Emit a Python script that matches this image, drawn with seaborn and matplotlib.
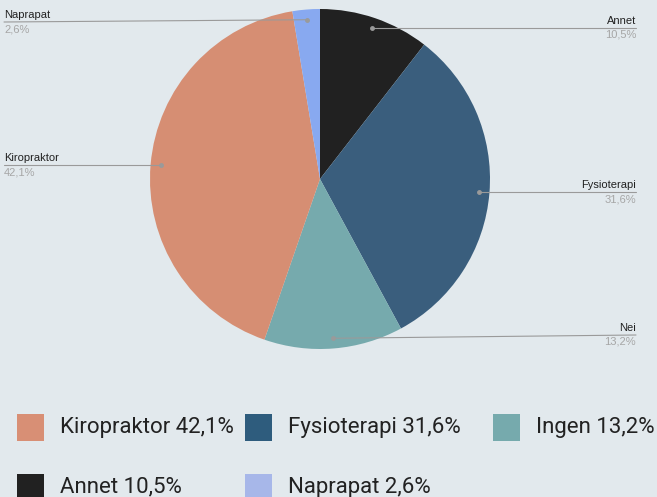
import numpy as np
import matplotlib
matplotlib.use('Agg')
import matplotlib.pyplot as plt
import seaborn as sns

# data (clockwise from 12 o'clock)
slice_labels = ['Annet', 'Fysioterapi', 'Nei', 'Kiropraktor', 'Naprapat']
slice_values = [10.5, 31.6, 13.2, 42.1, 2.6]
pie_colors = ['#212121', '#3a5e7d', '#76aaad', '#d68e73', '#88a9f0']

# legend in its own order, with its own names
legend_labels = ['Kiropraktor', 'Fysioterapi', 'Ingen', 'Annet', 'Naprapat']
legend_values = [42.1, 31.6, 13.2, 10.5, 2.6]
legend_colors = ['#d88f75', '#2e5c7d', '#76aaad', '#212121', '#a7b7e9']

bg = '#e2e9ed'
sns.set_style('white', {'axes.facecolor': bg, 'figure.facecolor': bg})
plt.rcParams['font.family'] = ['Liberation Sans', 'DejaVu Sans']

W, H = 657, 497
fig = plt.figure(figsize=(W / 100, H / 100), dpi=100)
cx, cy, R = 320, 179, 170
ax = fig.add_axes([(cx - R) / W, (H - cy - R) / H, 2 * R / W, 2 * R / H])
ax.set_facecolor(bg)

wedges, _ = ax.pie(slice_values, colors=pie_colors, startangle=90, counterclock=False,
                   radius=1, wedgeprops={'linewidth': 0})
ax.set_xlim(-1, 1)
ax.set_ylim(-1, 1)
ax.set_aspect('equal')
ax.axis('off')

# leader lines + labels
total = sum(slice_values)
cum = 0
for lab, val in zip(slice_labels, slice_values):
    mid = cum + val / 2
    cum += val
    ang = np.deg2rad(90 - 360 * mid / total)
    dx, dy = 0.94 * np.cos(ang), 0.94 * np.sin(ang)
    dot_py = cy - dy * R
    ly_px = min(max(dot_py, 22), 335)
    ly = (cy - ly_px) / R
    if dx >= 0:
        ex, ha = (636 - cx) / R, 'right'
    else:
        ex, ha = (4 - cx) / R, 'left'
    ax.plot([dx, ex], [dy, ly], color='#9a9a9a', lw=0.8, clip_on=False)
    ax.plot(dx, dy, 'o', color='#9a9a9a', ms=2.5, clip_on=False)
    ax.text(ex, ly + 2 / R, lab, ha=ha, va='bottom', fontsize=8, color='#222222', clip_on=False)
    ax.text(ex, ly - 2 / R, f'{val:.1f}%'.replace('.', ','), ha=ha, va='top', fontsize=8,
            color='#a6a6a6', clip_on=False)

# legend, row by row
col_x = [17, 245, 493]
row_y = [427, 487]
for i, (lab, val, col) in enumerate(zip(legend_labels, legend_values, legend_colors)):
    x0 = col_x[i % 3]
    y0 = row_y[i // 3]
    fig.patches.append(plt.Rectangle((x0 / W, (H - y0 - 13.5) / H), 27 / W, 27 / H,
                                     transform=fig.transFigure, color=col, lw=0))
    fig.text((x0 + 43) / W, (H - y0) / H, f'{lab} {val:.1f}%'.replace('.', ','),
             ha='left', va='center', fontsize=16, color='#222222', family=['Roboto', 'DejaVu Sans'])

fig.savefig('out.png', dpi=100, facecolor=bg)
